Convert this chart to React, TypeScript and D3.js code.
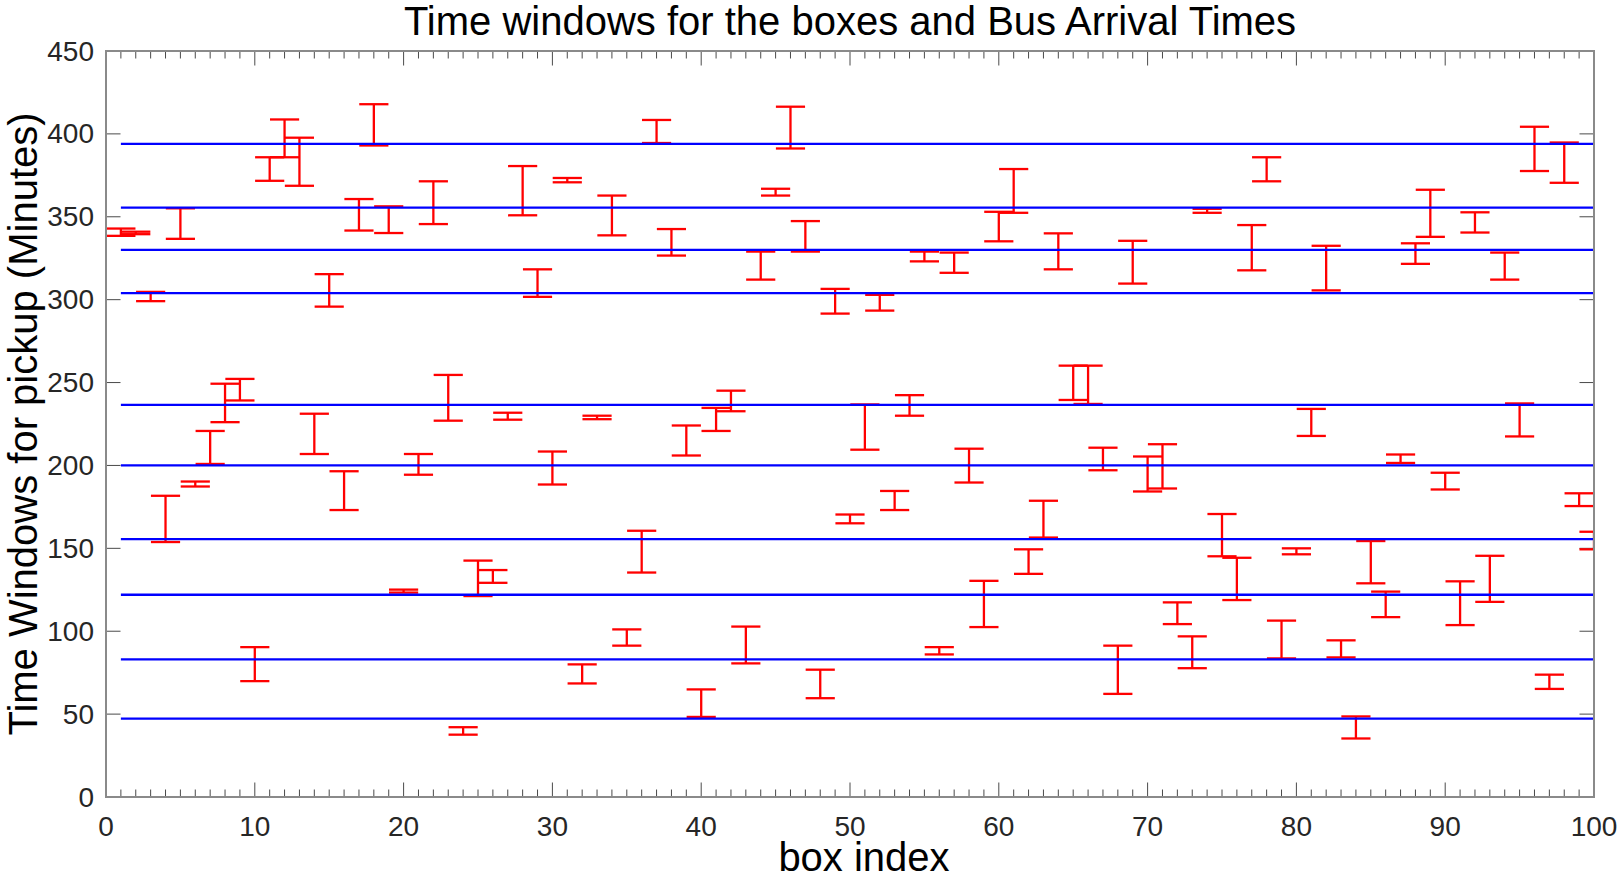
import React from "react";
import * as d3 from "d3";

// Box indices 1..100 with pickup time-window lower / upper bounds (minutes)
const boxIndex: number[] = d3.range(1, 101);

const windowLow: number[] = [
  338.5, 339.5, 299.1, 153.8, 336.7, 187.3, 200.9, 226.1, 239.2, 69.9,
  371.7, 385.9, 368.7, 206.9, 295.8, 173.1, 341.7, 393.0, 340.2, 123.3,
  194.4, 345.6, 227.0, 37.6, 121.2, 129.2, 227.6, 350.9, 301.7, 188.5,
  370.8, 68.5, 227.9, 338.8, 91.3, 135.4, 394.5, 326.6, 206.0, 48.3,
  220.8, 232.7, 80.6, 312.1, 362.8, 391.2, 329.0, 59.6, 291.6, 165.1,
  209.5, 293.4, 173.1, 230.0, 323.1, 86.0, 316.2, 189.7, 102.5, 335.2,
  352.4, 134.6, 156.5, 318.3, 239.5, 237.1, 197.1, 62.2, 309.7, 184.3,
  186.1, 104.3, 77.7, 352.4, 145.2, 118.8, 317.7, 371.4, 83.6, 146.4,
  217.8, 305.6, 84.2, 35.3, 128.9, 108.5, 201.5, 321.6, 337.9, 185.5,
  103.7, 340.5, 117.7, 312.1, 217.5, 377.6, 65.2, 370.5, 175.5, 149.4,
];

const windowHigh: number[] = [
  342.9, 341.0, 304.7, 181.7, 355.1, 190.3, 220.8, 249.3, 252.2, 90.4,
  385.9, 408.7, 397.7, 231.2, 315.4, 196.5, 360.7, 417.9, 356.3, 125.1,
  206.9, 371.4, 254.6, 42.1, 142.6, 136.9, 231.8, 380.6, 318.3, 208.4,
  373.4, 80.0, 230.0, 362.8, 101.1, 160.6, 408.4, 342.6, 224.1, 64.9,
  234.7, 245.1, 102.8, 329.0, 366.9, 416.4, 347.4, 76.8, 306.5, 170.4,
  236.8, 302.9, 184.6, 242.4, 329.0, 90.4, 328.4, 210.1, 130.4, 353.0,
  378.8, 149.4, 178.7, 340.0, 260.2, 260.2, 210.7, 91.3, 335.5, 205.4,
  212.8, 117.4, 96.9, 354.8, 170.7, 144.3, 345.0, 385.9, 106.4, 150.0,
  234.1, 332.5, 94.5, 48.6, 154.4, 123.9, 206.6, 334.0, 366.3, 195.6,
  130.1, 352.7, 145.5, 328.4, 237.4, 404.3, 73.8, 394.8, 183.2, 160.0,
];

// Bus arrival times (horizontal lines)
const busArrivals: number[] = [394, 355.5, 330, 304, 236.5, 200, 155.6, 122, 83, 47.3];

const xMajorTicks: number[] = d3.range(0, 101, 10);
const xMinorTicks: number[] = d3.range(0, 101, 1);
const yMajorTicks: number[] = d3.range(0, 451, 50);

const W = 1622;
const H = 876;
const L = 106;
const R = 1594;
const T = 51;
const B = 797;
const FONT = "'Liberation Sans', Arial, Helvetica, sans-serif";

export default function App() {
  const x = d3.scaleLinear().domain([0, 100]).range([L, R]);
  const y = d3.scaleLinear().domain([0, 450]).range([B, T]);
  const capHalf = 0.98;

  const bars = boxIndex.map((b, i) => ({ b, lo: windowLow[i], hi: windowHigh[i] }));

  return (
    <svg
      width={W}
      height={H}
      style={{ position: "absolute", left: 0, top: 0, background: "#fff" }}
      xmlns="http://www.w3.org/2000/svg"
    >
      <defs>
        <clipPath id="plotClip">
          <rect x={L} y={T} width={R - L} height={B - T} />
        </clipPath>
      </defs>
      <rect x={0} y={0} width={W} height={H} fill="#fff" />

      {/* ticks */}
      <g stroke="#4a4a4a" strokeWidth={1}>
        {xMinorTicks.map((t) => {
          const major = t % 10 === 0;
          const len = major ? 14.5 : 7.5;
          return (
            <g key={"xt" + t}>
              <line x1={x(t)} x2={x(t)} y1={B} y2={B - len} />
              <line x1={x(t)} x2={x(t)} y1={T} y2={T + len} />
            </g>
          );
        })}
        {yMajorTicks.map((t) => (
          <g key={"yt" + t}>
            <line x1={L} x2={L + 14.5} y1={y(t)} y2={y(t)} />
            <line x1={R} x2={R - 14.5} y1={y(t)} y2={y(t)} />
          </g>
        ))}
      </g>

      {/* error bars */}
      <g clipPath="url(#plotClip)" stroke="#ff0000" strokeWidth={2.3} fill="none">
        {bars.map((d) => (
          <g key={"bar" + d.b}>
            <line x1={x(d.b)} x2={x(d.b)} y1={y(d.lo)} y2={y(d.hi)} />
            <line x1={x(d.b - capHalf)} x2={x(d.b + capHalf)} y1={y(d.lo)} y2={y(d.lo)} />
            <line x1={x(d.b - capHalf)} x2={x(d.b + capHalf)} y1={y(d.hi)} y2={y(d.hi)} />
          </g>
        ))}
      </g>

      {/* bus arrival lines */}
      <g clipPath="url(#plotClip)" stroke="#0000ff" strokeWidth={2.3}>
        {busArrivals.map((v, i) => (
          <line key={"bus" + i} x1={x(1)} x2={x(100)} y1={y(v)} y2={y(v)} />
        ))}
      </g>

      {/* frame */}
      <rect x={L} y={T} width={R - L} height={B - T} fill="none" stroke="#8a8a8a" strokeWidth={2} />

      {/* tick labels */}
      <g fontFamily={FONT} fontSize={28} fill="#262626">
        {xMajorTicks.map((t) => (
          <text key={"xl" + t} x={x(t)} y={836} textAnchor="middle">
            {t}
          </text>
        ))}
        {yMajorTicks.map((t) => (
          <text key={"yl" + t} x={94} y={y(t)} textAnchor="end" dominantBaseline="central">
            {t}
          </text>
        ))}
      </g>

      {/* title and labels */}
      <text x={(L + R) / 2} y={35} textAnchor="middle" fontFamily={FONT} fontSize={40} fill="#000">
        Time windows for the boxes and Bus Arrival Times
      </text>
      <text x={864} y={871} textAnchor="middle" fontFamily={FONT} fontSize={40} fill="#000">
        box index
      </text>
      <text
        transform={`translate(37, ${(T + B) / 2}) rotate(-90)`}
        textAnchor="middle"
        fontFamily={FONT}
        fontSize={40}
        fill="#000"
      >
        Time Windows for pickup (Minutes)
      </text>
    </svg>
  );
}
